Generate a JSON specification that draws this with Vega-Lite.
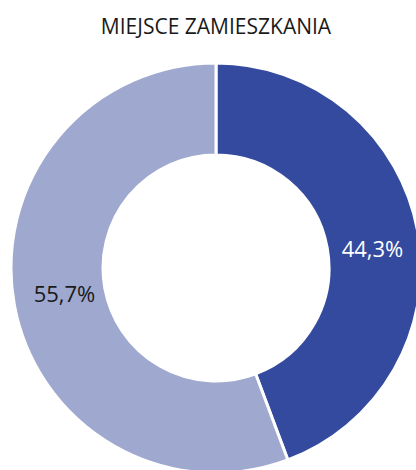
{
  "$schema": "https://vega.github.io/schema/vega-lite/v6.json",
  "autosize": "none",
  "width": 400,
  "height": 404,
  "padding": {"left": 16, "top": 66, "right": 0, "bottom": 0},
  "background": "white",
  "title": {
    "text": "MIEJSCE ZAMIESZKANIA",
    "font": "Open Sans",
    "fontSize": 21,
    "fontWeight": "normal",
    "color": "#1a1a1a",
    "anchor": "middle",
    "offset": 19
  },
  "data": {
    "values": [
      {"kategoria": "A", "wartosc": 44.3, "etykieta": "44,3%", "kolej": 1},
      {"kategoria": "B", "wartosc": 55.7, "etykieta": "55,7%", "kolej": 2}
    ]
  },
  "encoding": {
    "theta": {"field": "wartosc", "type": "quantitative", "stack": true},
    "order": {"field": "kolej", "type": "quantitative"}
  },
  "layer": [
    {
      "mark": {"type": "arc", "outerRadius": 205, "innerRadius": 113, "stroke": "white", "strokeWidth": 3},
      "encoding": {
        "color": {
          "field": "kategoria",
          "type": "nominal",
          "scale": {"domain": ["A", "B"], "range": ["#344A9E", "#9FA9CF"]},
          "legend": null
        }
      }
    },
    {
      "mark": {"type": "text", "radius": 159, "font": "Open Sans", "fontSize": 22, "dy": 10, "color": "white"},
      "encoding": {
        "text": {"condition": {"test": "datum.kategoria === 'A'", "field": "etykieta"}, "value": ""}
      }
    },
    {
      "mark": {"type": "text", "radius": 154, "font": "Open Sans", "fontSize": 22, "color": "#1a1a1a"},
      "encoding": {
        "text": {"condition": {"test": "datum.kategoria === 'B'", "field": "etykieta"}, "value": ""}
      }
    }
  ]
}
